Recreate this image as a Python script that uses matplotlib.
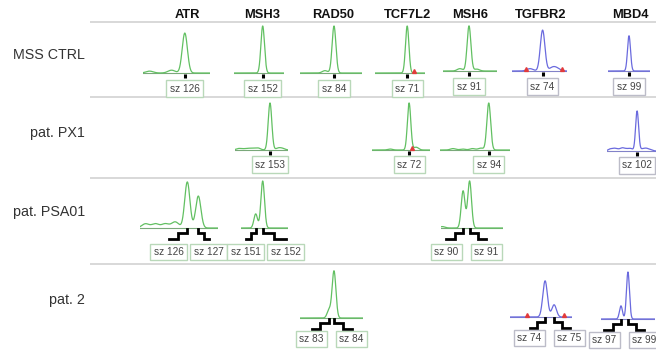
"""
MSI fragment analysis panel: peaks per sample and marker
"""
import numpy as np
import matplotlib
matplotlib.use('Agg')
from matplotlib import pyplot as plt
from matplotlib import transforms as mtransforms

plt.rcParams['font.family'] = ['Liberation Sans', 'DejaVu Sans']

W, H = 656, 352

genes = ["ATR", "MSH3", "RAD50", "TCF7L2", "MSH6", "TGFBR2", "MBD4"]
samples = ["MSS CTRL", "pat. PX1", "pat. PSA01", "pat. 2"]
dye = {"ATR": "green", "MSH3": "green", "RAD50": "green", "TCF7L2": "green",
       "MSH6": "green", "TGFBR2": "blue", "MBD4": "blue"}

# called allele peaks: gene -> [(size bp, relative height)]
peaks_ctrl = {"ATR": [(126, 0.85)], "MSH3": [(152, 1.0)], "RAD50": [(84, 1.0)],
              "TCF7L2": [(71, 1.0)], "MSH6": [(91, 0.96)], "TGFBR2": [(74, 0.87)],
              "MBD4": [(99, 0.75)]}
peaks_px1 = {"MSH3": [(153, 1.0)], "TCF7L2": [(72, 1.0)], "MSH6": [(94, 1.0)],
             "MBD4": [(102, 0.85)]}
peaks_psa01 = {"ATR": [(126, 0.98), (127, 0.68)], "MSH3": [(151, 0.3), (152, 1.0)],
               "MSH6": [(90, 0.79), (91, 1.0)]}
peaks_pat2 = {"RAD50": [(83, 0.17), (84, 1.0)], "TGFBR2": [(74, 0.77), (75, 0.26)],
              "MBD4": [(97, 0.28), (99, 1.0)]}

# small stutter / background bumps
noise_ctrl = {"ATR": [(122.8, 0.04), (124.8, 0.06)], "RAD50": [(82.2, 0.05)],
              "MSH6": [(89.6, 0.05), (92.2, 0.04)],
              "TGFBR2": [(72.6, 0.05), (75.1, 0.07), (75.6, 0.05)]}
noise_px1 = {"MSH3": [(148.5, 0.03), (149.2, 0.02), (149.9, 0.03), (150.6, 0.03),
                      (151.3, 0.04), (154.2, 0.04), (154.8, 0.03)],
             "TCF7L2": [(69.3, 0.02), (73.0, 0.06)],
             "MSH6": [(88.5, 0.03), (90.0, 0.02), (91.5, 0.03), (92.8, 0.04)],
             "MBD4": [(94.3, 0.04), (95.5, 0.05), (96.6, 0.03), (97.8, 0.06), (99.0, 0.04),
                      (100.2, 0.05), (103.5, 0.04), (104.6, 0.05), (105.8, 0.03)]}
noise_psa01 = {"ATR": [(122.2, 0.09), (123.1, 0.09), (124.0, 0.09), (124.9, 0.13)],
               "MSH6": [(86.8, 0.03)]}
noise_pat2 = {}

# size standard markers (red triangles)
markers_ctrl = {"TCF7L2": [72.0], "TGFBR2": [72.2, 76.1]}
markers_px1 = {"TCF7L2": [72.4]}
markers_psa01 = {}
markers_pat2 = {"TGFBR2": [72.0, 76.1]}

# size window shown (bp)
window_ctrl = {"ATR": (122.2, 128.3), "MSH3": (147.9, 155.0), "RAD50": (77.2, 89.6),
               "TCF7L2": (66.4, 73.6), "MSH6": (87.0, 95.3), "TGFBR2": (70.6, 76.7),
               "MBD4": (93.0, 105.0)}
window_px1 = {"MSH3": (148.0, 155.6), "TCF7L2": (66.7, 75.0), "MSH6": (86.5, 97.2),
              "MBD4": (93.4, 107.4)}
window_psa01 = {"ATR": (121.7, 128.8), "MSH3": (148.9, 155.6), "MSH6": (86.6, 96.2)}
window_pat2 = {"RAD50": (77.2, 89.8), "TGFBR2": (70.1, 77.0), "MBD4": (91.3, 106.7)}

peaks = dict(zip(samples, [peaks_ctrl, peaks_px1, peaks_psa01, peaks_pat2]))
noise = dict(zip(samples, [noise_ctrl, noise_px1, noise_psa01, noise_pat2]))
markers = dict(zip(samples, [markers_ctrl, markers_px1, markers_psa01, markers_pat2]))
windows = dict(zip(samples, [window_ctrl, window_px1, window_psa01, window_pat2]))

# ---- layout (pixels) ----
px_per_bp = {"ATR": 11, "MSH3": 7, "RAD50": 5, "TCF7L2": 7, "MSH6": 6.5, "TGFBR2": 9, "MBD4": 3.5}
sigma_px = {"ATR": 2.6, "MSH3": 1.8, "RAD50": 1.9, "TCF7L2": 1.7, "MSH6": 1.9, "TGFBR2": 2.3, "MBD4": 1.5}
cell_pos = {  # (left px of window, baseline px)
    ("MSS CTRL", "ATR"): (143, 73), ("MSS CTRL", "MSH3"): (234, 73),
    ("MSS CTRL", "RAD50"): (300, 73), ("MSS CTRL", "TCF7L2"): (375, 73),
    ("MSS CTRL", "MSH6"): (443, 71), ("MSS CTRL", "TGFBR2"): (512, 71),
    ("MSS CTRL", "MBD4"): (608, 71),
    ("pat. PX1", "MSH3"): (235, 150), ("pat. PX1", "TCF7L2"): (372, 150),
    ("pat. PX1", "MSH6"): (440, 150), ("pat. PX1", "MBD4"): (607, 151),
    ("pat. PSA01", "ATR"): (140, 228), ("pat. PSA01", "MSH3"): (241, 228),
    ("pat. PSA01", "MSH6"): (441, 228),
    ("pat. 2", "RAD50"): (300, 318), ("pat. 2", "TGFBR2"): (510, 317),
    ("pat. 2", "MBD4"): (601, 319),
}
label_shift = {("pat. PSA01", "ATR"): -4, ("pat. PSA01", "MSH3"): 6.5}
box_drop = {"MSS CTRL": 15.5, "pat. PX1": 14.5, "pat. PSA01": 24, "pat. 2": 21}
header_x = {"ATR": 187, "MSH3": 262, "RAD50": 333, "TCF7L2": 408, "MSH6": 470, "TGFBR2": 541, "MBD4": 630}
row_y = {"MSS CTRL": 55, "pat. PX1": 133, "pat. PSA01": 212, "pat. 2": 300}
separators = [22, 97, 178, 264]
UNIT = 47.0   # px for relative height 1.0
PAD = 4.0

colors = {"green": "#62c062", "blue": "#6a6ade"}
base_colors = {"green": "#7aa87a", "blue": "#8282c8"}
edge_colors = {"green": "#b9d8b9", "blue": "#bcbcc8"}

fig = plt.figure(figsize=(W / 100, H / 100), dpi=100)
bg = fig.add_axes([0, 0, 1, 1])
bg.set_xlim(0, W)
bg.set_ylim(H, 0)
bg.axis('off')
bg.hlines(separators, 90, W, color='#d2d2d2', lw=1.2)
for g in genes:
    bg.text(header_x[g], 15.5, g, ha='center', va='center', fontsize=9.3,
            fontweight='bold', color='#111111')
for s in samples:
    bg.text(85, row_y[s], s, ha='right', va='center', fontsize=10.3, color='#333333')


def below(ax, x_bp):
    # pixel offsets (x right, y down) anchored at (x_bp, baseline)
    return mtransforms.Affine2D().scale(1, -1) + mtransforms.ScaledTranslation(x_bp, 0, ax.transData)


def box(ax, txt, x_bp, dx, dy, edge):
    ax.annotate(txt, xy=(x_bp, 0), xytext=(dx, -dy), textcoords='offset pixels',
                ha='center', va='center', fontsize=7.3, color='#444444',
                annotation_clip=False,
                bbox=dict(boxstyle='square,pad=0.34', fc='white', ec=edge, lw=1))


for s in samples:
    for g in genes:
        if g not in peaks[s]:
            continue
        lo, hi = windows[s][g]
        left, base = cell_pos[(s, g)]
        width = (hi - lo) * px_per_bp[g]
        ax = fig.add_axes([left / W, (H - base - PAD) / H, width / W, (UNIT * 1.08 + PAD) / H])
        ax.set_xlim(lo, hi)
        ax.set_ylim(-PAD / UNIT, 1.08)
        ax.axis('off')

        sig = sigma_px[g] / px_per_bp[g]
        xs = np.linspace(lo, hi, 800)
        ys = np.zeros_like(xs)
        for pos, h in peaks[s][g]:
            ys += h * np.exp(-0.5 * ((xs - pos) / sig) ** 2)
        for pos, h in noise[s].get(g, []):
            ys += h * np.exp(-0.5 * ((xs - pos) / (sig * 1.4)) ** 2)
        c = dye[g]
        ax.plot([lo, hi], [0, 0], color=base_colors[c], lw=0.8)
        ax.plot(xs, ys, color=colors[c], lw=0.9)
        for m in markers[s].get(g, []):
            ax.plot(m, 0.04, marker='^', ms=2.8, color='#e23b3b', mec='#e23b3b')

        sizes = [p for p, _ in peaks[s][g]]
        if len(sizes) == 1:
            p = sizes[0]
            ax.plot([0, 0], [1, 4.5], transform=below(ax, p), color='black', lw=2.2,
                    solid_capstyle='butt', clip_on=False)
            box(ax, f"sz {p}", p, 0, box_drop[s], edge_colors[c])
        else:
            p1, p2 = sizes
            mid = (p1 + p2) / 2
            shift = label_shift.get((s, g), 0)
            half = (p2 - p1) / 2 * px_per_bp[g]
            for sign, p in ((-1, p1), (1, p2)):
                end = shift + sign * 20
                start = sign * half
                knee = (start + end) / 2
                vx = [start, start, knee, knee, end]
                vy = [1, 5, 5, 10.5, 10.5]
                ax.plot(vx, vy, transform=below(ax, mid), color='black', lw=2.0,
                        solid_joinstyle='miter', clip_on=False)
                box(ax, f"sz {p}", mid, end, box_drop[s], edge_colors[c])

fig.savefig('out.png', dpi=100)
